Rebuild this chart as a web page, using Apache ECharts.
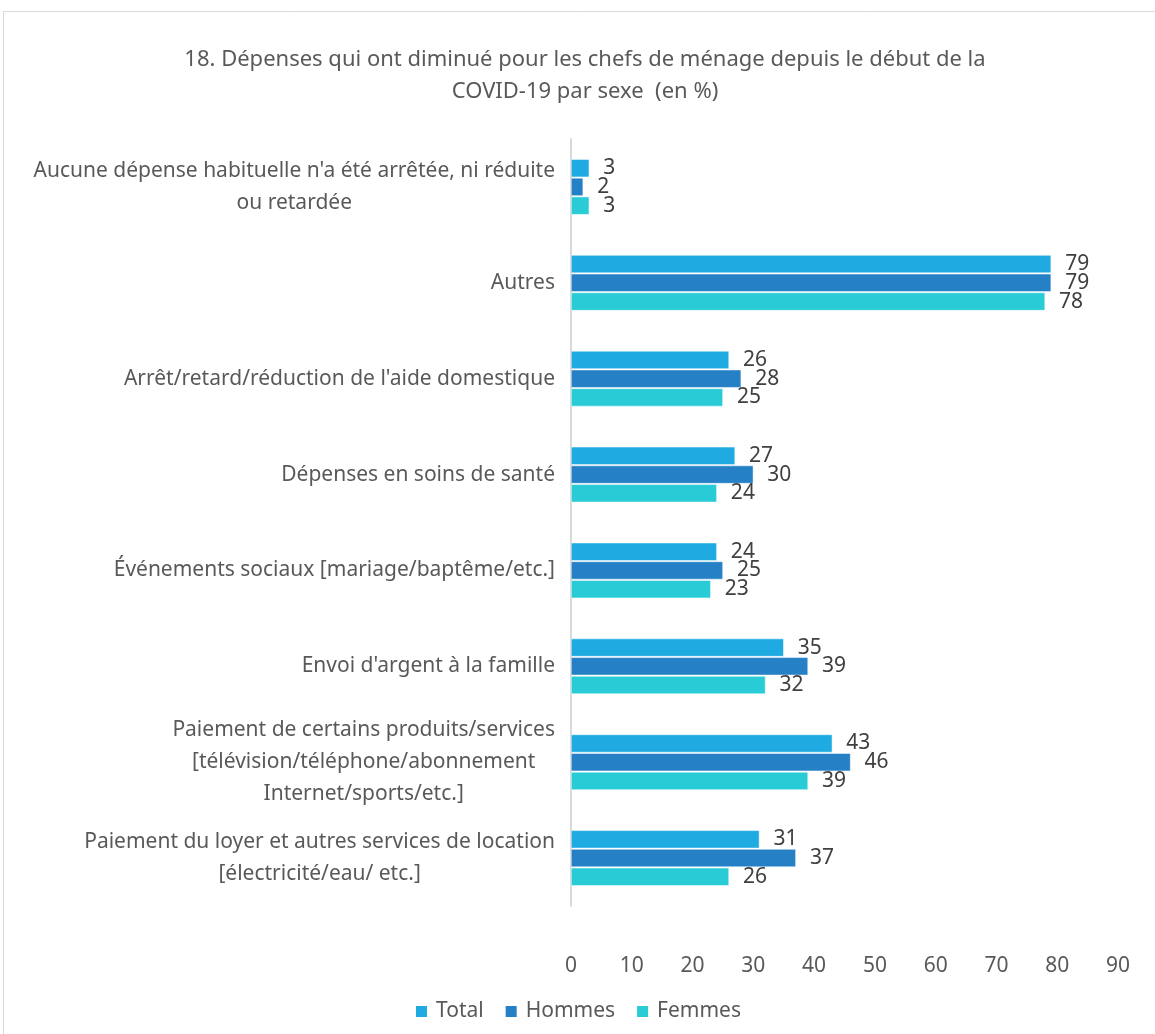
<!DOCTYPE html>
<html>
<head>
    <meta charset="utf-8">
    <title>Dépenses diminuées par sexe</title>
    <script src="https://cdn.jsdelivr.net/npm/echarts@6/dist/echarts.min.js"></script>
    <style>
        html, body { margin: 0; padding: 0; background: #fff; }
        #container { width: 1155px; height: 1034px; }
    </style>
</head>
<body>
<div id="container"></div>
<script type="text/javascript">
    var categories = [
        "Aucune dépense habituelle n'a été arrêtée, ni réduite\nou retardée",
        "Autres",
        "Arrêt/retard/réduction de l'aide domestique",
        "Dépenses en soins de santé",
        "Événements sociaux [mariage/baptême/etc.]",
        "Envoi d'argent à la famille",
        "Paiement de certains produits/services\n[télévision/téléphone/abonnement\nInternet/sports/etc.]",
        "Paiement du loyer et autres services de location\n[électricité/eau/ etc.]"
    ];
    var total = [3, 79, 26, 27, 24, 35, 43, 31];
    var hommes = [2, 79, 28, 30, 25, 39, 46, 37];
    var femmes = [3, 78, 25, 24, 23, 32, 39, 26];
    var seriesNames = ['Total', 'Hommes', 'Femmes'];
    var colors = ['#1fabe2', '#2580c5', '#29ccd6'];

    var font = '"Noto Sans", "Open Sans", sans-serif';
    var myChart = echarts.init(document.getElementById('container'));

    function barSeries(name, data) {
        return {
            name: name,
            type: 'bar',
            data: data,
            barWidth: 18,
            barGap: '4%',
            barCategoryGap: '42%',
            itemStyle: {borderColor: '#ffffff', borderWidth: 0.5},
            label: {
                show: true,
                position: 'right',
                distance: 14,
                color: '#404040',
                fontSize: 21,
                fontFamily: font
            }
        };
    }

    var option = {
        animation: false,
        color: colors,
        title: {
            text: '18. Dépenses qui ont diminué pour les chefs de ménage depuis le début de la\nCOVID-19 par sexe  (en %)',
            left: 580,
            textAlign: 'center',
            top: 39,
            textStyle: {
                fontSize: 22,
                fontWeight: 'normal',
                color: '#595959',
                fontFamily: font,
                lineHeight: 32
            }
        },
        graphic: [{
            type: 'rect',
            shape: {x: 3.5, y: 11.5, width: 1170, height: 1040},
            style: {fill: 'none', stroke: '#d9d9d9', lineWidth: 1},
            silent: true
        }],
        legend: {
            data: seriesNames,
            bottom: 7,
            left: 'center',
            itemWidth: 13,
            itemHeight: 13,
            itemGap: 20,
            icon: 'rect',
            textStyle: {fontSize: 21, color: '#595959', fontFamily: font, padding: [0, 0, 0, 3]}
        },
        grid: {
            left: 571,
            right: 37,
            top: 139,
            bottom: 128
        },
        xAxis: {
            type: 'value',
            min: 0,
            max: 90,
            interval: 10,
            axisLine: {show: false},
            axisTick: {show: false},
            splitLine: {show: false},
            axisLabel: {
                margin: 50,
                fontSize: 21,
                color: '#595959',
                fontFamily: font
            }
        },
        yAxis: {
            type: 'category',
            inverse: true,
            data: categories,
            axisLine: {show: true, lineStyle: {color: '#d9d9d9', width: 2}},
            axisTick: {show: false},
            axisLabel: {
                margin: 16,
                formatter: function (v) {
                    return '{c|' + v + '}';
                },
                rich: {
                    c: {
                        align: 'center',
                        fontSize: 21,
                        lineHeight: 32,
                        color: '#595959',
                        fontFamily: font
                    }
                }
            }
        },
        series: [
            barSeries(seriesNames[0], total),
            barSeries(seriesNames[1], hommes),
            barSeries(seriesNames[2], femmes)
        ]
    };

    myChart.setOption(option, true);
</script>
</body>
</html>
